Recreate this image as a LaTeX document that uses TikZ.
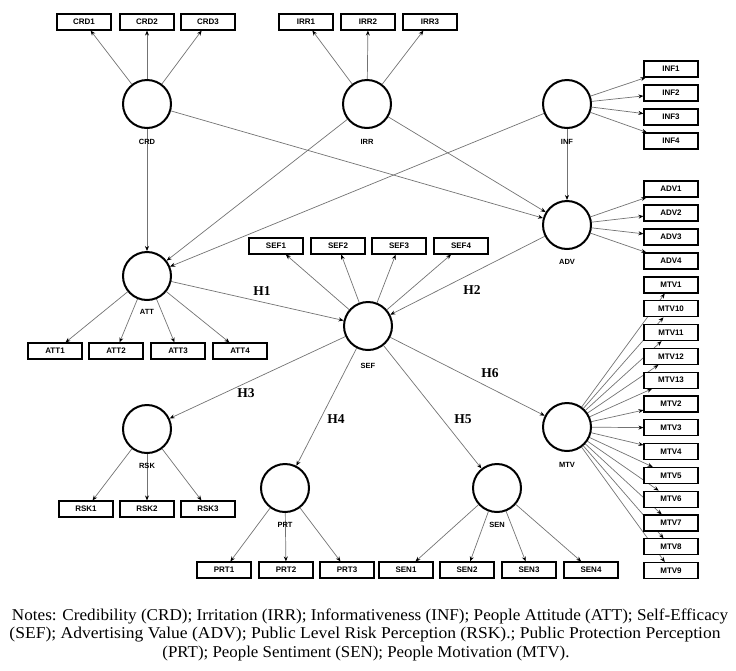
\documentclass[tikz,border=0pt]{standalone}
\usepackage{fontspec}
\setmainfont{Liberation Serif}
\setsansfont{Liberation Sans}
\usetikzlibrary{arrows.meta,calc}
\pgfdeclarelayer{background}
\pgfsetlayers{background,main}
\begin{document}
\begin{tikzpicture}[x=1pt,y=-1pt,
  lat/.style={circle,draw=black,line width=2pt,minimum size=48pt,inner sep=0pt},
  ind/.style={draw=black,line width=1.1pt,fill=white,minimum width=54pt,minimum height=16pt,inner sep=0pt,font=\sffamily\bfseries\fontsize{8}{9}\selectfont},
  lab/.style={font=\sffamily\bfseries\fontsize{7.5}{9}\selectfont},
  hyp/.style={font=\rmfamily\bfseries\fontsize{13.5}{15}\selectfont},
  note/.style={font=\rmfamily\fontsize{16.5}{18}\selectfont,inner sep=0pt},
  arr/.style={draw=black!55,line width=0.7pt,-{Stealth[length=5pt,width=4pt,color=black]}},
]
\useasboundingbox (0,0) rectangle (736,670);

% latent variables
\node[lat] (CRD) at (147,104) {};
\node[lat] (IRR) at (367,104) {};
\node[lat] (INF) at (567,104) {};
\node[lat] (ADV) at (567,225) {};
\node[lat] (ATT) at (147,276) {};
\node[lat] (SEF) at (368,326) {};
\node[lat] (RSK) at (147,429) {};
\node[lat] (PRT) at (285,488) {};
\node[lat] (SEN) at (497,488) {};
\node[lat] (MTV) at (567,427) {};

% latent labels
\node[lab] (lCRD) at (147,142) {CRD};
\node[lab] (lIRR) at (367,142) {IRR};
\node[lab] (lINF) at (567,142) {INF};
\node[lab] (lADV) at (567,262) {ADV};
\node[lab] (lATT) at (147,312) {ATT};
\node[lab] (lSEF) at (368,366) {SEF};
\node[lab] (lRSK) at (147,466) {RSK};
\node[lab] (lPRT) at (285,525) {PRT};
\node[lab] (lSEN) at (497,525) {SEN};
\node[lab] (lMTV) at (567,465) {MTV};

% indicators
\foreach \n/\x in {1/84,2/147,3/208} \node[ind] (CRD\n) at (\x,22) {CRD\n};
\foreach \n/\x in {1/306,2/368,3/430} \node[ind] (IRR\n) at (\x,22) {IRR\n};
\foreach \n/\y in {1/69,2/93,3/117,4/141} \node[ind] (INF\n) at (671,\y) {INF\n};
\foreach \n/\y in {1/189,2/213,3/237,4/261} \node[ind] (ADV\n) at (671,\y) {ADV\n};
\foreach \n/\x in {1/276,2/338,3/399,4/461} \node[ind] (SEF\n) at (\x,246) {SEF\n};
\foreach \n/\x in {1/55,2/116,3/178,4/240} \node[ind] (ATT\n) at (\x,351) {ATT\n};
\foreach \n/\x in {1/86,2/147,3/208} \node[ind] (RSK\n) at (\x,509) {RSK\n};
\foreach \n/\x in {1/224,2/286,3/347} \node[ind] (PRT\n) at (\x,570) {PRT\n};
\foreach \n/\x in {1/406,2/467,3/529,4/591} \node[ind] (SEN\n) at (\x,570) {SEN\n};
\foreach \n [count=\i from 0] in {1,10,11,12,13,2,3,4,5,6,7,8,9}
  \node[ind] (MTV\n) at (671,{285+23.8*\i}) {MTV\n};

% hypothesis labels
\node[hyp] (H1) at (262,291) {H1};
\node[hyp] (H2) at (472,290) {H2};
\node[hyp] (H3) at (246,393) {H3};
\node[hyp] (H4) at (336,419) {H4};
\node[hyp] (H5) at (463,419) {H5};
\node[hyp] (H6) at (490,373) {H6};

% connectors
\begin{pgfonlayer}{background}
\foreach \n in {1,2,3} \draw[arr] (CRD) -- (CRD\n);
\foreach \n in {1,2,3} \draw[arr] (IRR) -- (IRR\n);
\foreach \n in {1,2,3,4} \draw[arr] (INF) -- (INF\n);
\foreach \n in {1,2,3,4} \draw[arr] (ADV) -- (ADV\n);
\foreach \n in {1,2,3,4} \draw[arr] (SEF) -- (SEF\n);
\foreach \n in {1,2,3,4} \draw[arr] (ATT) -- (ATT\n);
\foreach \n in {1,2,3} \draw[arr] (RSK) -- (RSK\n);
\foreach \n in {1,2,3} \draw[arr] (PRT) -- (PRT\n);
\foreach \n in {1,2,3,4} \draw[arr] (SEN) -- (SEN\n);
\foreach \n in {1,10,11,12,13,2,3,4,5,6,7,8,9} \draw[arr] (MTV) -- (MTV\n);
\draw[arr] (CRD) -- (ATT);
\draw[arr] (CRD) -- (ADV);
\draw[arr] (IRR) -- (ATT);
\draw[arr] (IRR) -- (ADV);
\draw[arr] (INF) -- (ADV);
\draw[arr] (INF) -- (ATT);
\draw[arr] (ATT) -- (SEF);
\draw[arr] (ADV) -- (SEF);
\draw[arr] (SEF) -- (RSK);
\draw[arr] (SEF) -- (PRT);
\draw[arr] (SEF) -- (SEN);
\draw[arr] (SEF) -- (MTV);
\end{pgfonlayer}

% notes
\node[note] (N1) at (370,616) {\resizebox{716pt}{\height}{Notes: Credibility (CRD); Irritation (IRR); Informativeness (INF); People Attitude (ATT); Self-Efficacy}};
\node[note] (N2) at (365,635) {\resizebox{711pt}{\height}{(SEF); Advertising Value (ADV); Public Level Risk Perception (RSK).; Public Protection Perception}};
\node[note] (N3) at (366,654) {\resizebox{407pt}{\height}{(PRT); People Sentiment (SEN); People Motivation (MTV).}};
\end{tikzpicture}
\end{document}
